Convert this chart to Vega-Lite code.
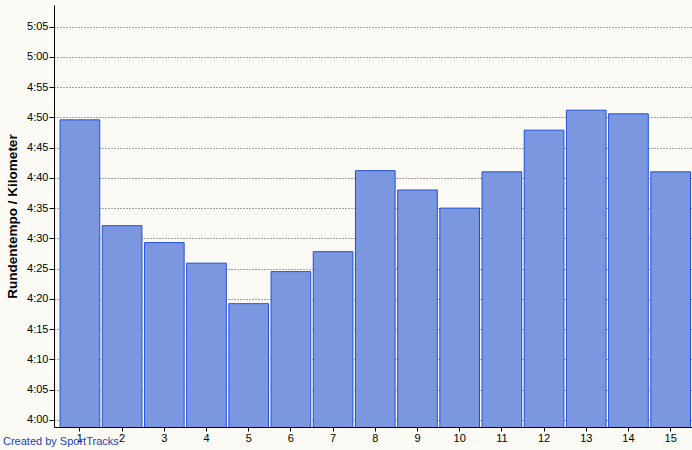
{
  "$schema": "https://vega.github.io/schema/vega-lite/v6.json",
  "width": 638,
  "height": 422,
  "autosize": {"type": "none"},
  "padding": {"left": 54, "top": 5, "right": 0, "bottom": 23},
  "background": "#FBFAF5",
  "title": {
    "text": "Created by SportTracks",
    "orient": "bottom",
    "anchor": "start",
    "frame": "group",
    "dx": -51,
    "offset": -7,
    "font": "Liberation Sans",
    "fontSize": 11,
    "fontWeight": "normal",
    "color": "#1F3FC0"
  },
  "data": {
    "values": [
      {"lap": 1, "pace": 289.6},
      {"lap": 2, "pace": 272.1},
      {"lap": 3, "pace": 269.3},
      {"lap": 4, "pace": 265.9},
      {"lap": 5, "pace": 259.2},
      {"lap": 6, "pace": 264.5},
      {"lap": 7, "pace": 267.8},
      {"lap": 8, "pace": 281.2},
      {"lap": 9, "pace": 278.0},
      {"lap": 10, "pace": 275.0},
      {"lap": 11, "pace": 281.0},
      {"lap": 12, "pace": 287.9},
      {"lap": 13, "pace": 291.2},
      {"lap": 14, "pace": 290.6},
      {"lap": 15, "pace": 281.0}
    ]
  },
  "mark": {"type": "bar", "fill": "#7B97E0", "stroke": "#1F50D8", "strokeWidth": 1, "clip": true},
  "encoding": {
    "x": {
      "field": "lap",
      "type": "ordinal",
      "scale": {"paddingInner": 0.06, "paddingOuter": 0.09, "align": 0.8},
      "axis": {
        "title": null,
        "labelAngle": 0,
        "labelFont": "Liberation Sans",
        "labelFontSize": 11,
        "labelColor": "#000000",
        "domainColor": "#000000",
        "tickColor": "#000000",
        "tickSize": 4,
        "labelPadding": 1,
        "grid": false
      }
    },
    "y": {
      "field": "pace",
      "type": "quantitative",
      "scale": {"domain": [238.8, 308.6], "nice": false, "zero": false},
      "axis": {
        "title": "Rundentempo / Kilometer",
        "titleFont": "Liberation Sans",
        "titleFontSize": 13.5,
        "titleFontWeight": "bold",
        "titleColor": "#000000",
        "titlePadding": 7,
        "values": [240, 245, 250, 255, 260, 265, 270, 275, 280, 285, 290, 295, 300, 305],
        "labelExpr": "floor(datum.value/60) + ':' + (datum.value % 60 < 10 ? '0' : '') + (datum.value % 60)",
        "labelFont": "Liberation Sans",
        "labelFontSize": 11,
        "labelColor": "#000000",
        "domainColor": "#000000",
        "tickColor": "#000000",
        "tickSize": 5,
        "labelPadding": 1,
        "grid": true,
        "gridColor": "#505050",
        "gridDash": [1, 2],
        "gridWidth": 1
      }
    }
  },
  "config": {
    "view": {"stroke": null},
    "axis": {"labelFlush": false}
  }
}
